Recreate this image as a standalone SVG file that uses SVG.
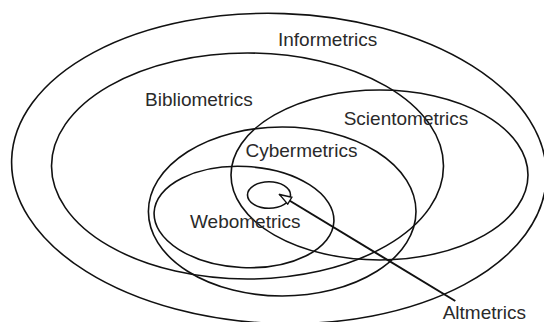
<svg xmlns="http://www.w3.org/2000/svg" width="544" height="322" viewBox="0 0 544 322">
<style>
.e{fill:none;stroke:#111;stroke-width:1.6}
.t{font-family:"Liberation Sans",Arial,sans-serif;font-size:19px;fill:#2a2a2a}
</style>
<defs>
<marker id="ah" markerWidth="14" markerHeight="12" refX="13" refY="5" orient="auto" markerUnits="userSpaceOnUse">
<path d="M1,1 L13,5 L1,9 Z" fill="#fff" stroke="#111" stroke-width="1.4"/>
</marker>
</defs>
<rect width="544" height="322" fill="#fff"/>
<g id="informetrics"><ellipse class="e" cx="279" cy="168.5" rx="267.5" ry="155" transform="rotate(2 279 168.5)"/><text class="t" x="278" y="45.5">Informetrics</text></g>
<g id="bibliometrics"><ellipse class="e" cx="247.5" cy="166" rx="196" ry="113"/><text class="t" x="145" y="106">Bibliometrics</text></g>
<g id="scientometrics"><ellipse class="e" cx="379.5" cy="175" rx="148.5" ry="85"/><text class="t" x="343.7" y="125">Scientometrics</text></g>
<g id="cybermetrics"><ellipse class="e" cx="282.2" cy="211.5" rx="133.8" ry="84.5"/><text class="t" x="245.5" y="157.3">Cybermetrics</text></g>
<g id="webometrics"><ellipse class="e" cx="244" cy="217" rx="90" ry="50.5" transform="rotate(3 244 217)"/><text class="t" x="190" y="227.7">Webometrics</text></g>
<g id="altmetrics"><ellipse class="e" cx="269" cy="195" rx="21.5" ry="13.3"/><text class="t" x="442.7" y="319.3">Altmetrics</text></g>
<g id="connectors"><line x1="455.3" y1="301" x2="279.5" y2="194.5" stroke="#111" stroke-width="2" marker-end="url(#ah)"/></g>
</svg>
